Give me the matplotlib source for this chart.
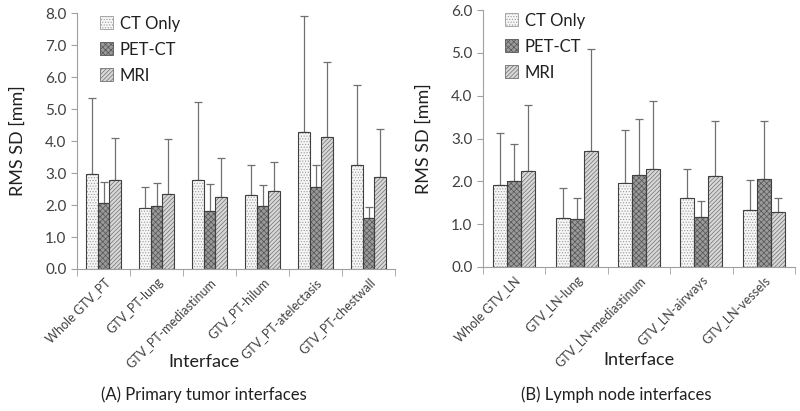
import numpy as np
import matplotlib
matplotlib.use("Agg")
import matplotlib.pyplot as plt

plt.rcParams['font.family'] = ['Lato', 'DejaVu Sans']
plt.rcParams['hatch.linewidth'] = 0.5

series = ["CT Only", "PET-CT", "MRI"]

# (A) primary tumor interfaces
pt_labels = ["Whole GTV_PT", "GTV_PT-lung", "GTV_PT-mediastinum", "GTV_PT-hilum",
             "GTV_PT-atelectasis", "GTV_PT-chestwall"]
pt_ct = [2.96, 1.92, 2.78, 2.32, 4.28, 3.25]
pt_pet = [2.05, 1.97, 1.80, 1.98, 2.55, 1.60]
pt_mri = [2.78, 2.35, 2.25, 2.45, 4.13, 2.87]
pt_ct_top = [5.33, 2.55, 5.23, 3.25, 7.92, 5.75]
pt_pet_top = [2.71, 2.70, 2.65, 2.63, 3.25, 1.94]
pt_mri_top = [4.10, 4.06, 3.47, 3.33, 6.46, 4.38]

# (B) lymph node interfaces
ln_labels = ["Whole GTV_LN", "GTV_LN-lung", "GTV_LN-mediastinum", "GTV_LN-airways",
             "GTV_LN-vessels"]
ln_ct = [1.92, 1.14, 1.96, 1.60, 1.33]
ln_pet = [2.01, 1.12, 2.15, 1.16, 2.06]
ln_mri = [2.23, 2.70, 2.28, 2.12, 1.28]
ln_ct_top = [3.13, 1.84, 3.20, 2.28, 2.04]
ln_pet_top = [2.87, 1.61, 3.45, 1.53, 3.40]
ln_mri_top = [3.78, 5.10, 3.87, 3.40, 1.61]

faces = ["#f6f6f6", "#9a9a9a", "#d8d8d8"]
hcols = ["#9a9a9a", "#555555", "#707070"]
hatches = ["......", "xxxxxx", "////////"]
txt = "#404040"
axc = "#a0a0a0"


def panel(ax, labels, vals, tops, ymax, caption, cap_x, lab_x, leg_x):
    n = len(labels)
    x = np.arange(n)
    w = 0.225
    for i in range(3):
        pos = x + (i - 1) * w
        err = np.array(tops[i]) - np.array(vals[i])
        ax.errorbar(pos, vals[i], yerr=[np.zeros(n), err], fmt="none",
                    ecolor="#707070", elinewidth=0.9, capsize=3, capthick=0.9, zorder=1)
        ax.bar(pos, vals[i], w, color=faces[i], edgecolor=hcols[i],
               hatch=hatches[i], linewidth=0, zorder=2)
        ax.bar(pos, vals[i], w, fill=False, edgecolor="#404040", linewidth=0.8,
               zorder=3)
        # legend proxy
        ax.bar([0], [0], 0, color=faces[i], edgecolor=hcols[i], hatch=hatches[i],
               linewidth=0.6, label=series[i])
    ax.set_xlim(-0.5, n - 0.5)
    ax.set_ylim(0, ymax)
    ticks = np.arange(0, ymax + 0.01, 1.0)
    ax.set_yticks(ticks)
    ax.set_yticklabels([f"{v:.1f}" for v in ticks], fontsize=11, color=txt)
    ax.set_xticks(x)
    ax.set_xticklabels(labels, rotation=45, ha="right", rotation_mode="anchor",
                       fontsize=9, color=txt)
    ax.set_xticks(np.arange(n + 1) - 0.5, minor=True)
    ax.tick_params(axis="x", which="major", length=0, pad=5)
    ax.tick_params(axis="x", which="minor", length=5, color=axc, direction="out")
    ax.tick_params(axis="y", length=4, color=axc, direction="out")
    for s in ["top", "right"]:
        ax.spines[s].set_visible(False)
    for s in ["left", "bottom"]:
        ax.spines[s].set_color(axc)
    ax.set_ylabel("RMS SD [mm]", fontsize=13, color="#202020", labelpad=14)
    ax.set_xlabel("Interface", fontsize=13, color="#202020")
    ax.xaxis.label.set_va("center")
    ax.xaxis.set_label_coords(lab_x, -0.363)
    leg = ax.legend(loc="upper left", bbox_to_anchor=(leg_x, 0.99), frameon=False,
                    fontsize=12, handlelength=0.8, handleheight=0.8,
                    handletextpad=0.4, labelspacing=0.6, borderaxespad=0,
                    borderpad=0)
    for t in leg.get_texts():
        t.set_color("#202020")
    fig.text(cap_x, 16 / 411, caption, ha="center", va="center", fontsize=12,
             color="#202020")


fig = plt.figure(figsize=(8, 4.11), dpi=100)
ax1 = fig.add_axes([77 / 800, 142 / 411, 318 / 800, 256 / 411])
ax2 = fig.add_axes([483 / 800, 144 / 411, 312 / 800, 257 / 411])

panel(ax1, pt_labels, [pt_ct, pt_pet, pt_mri], [pt_ct_top, pt_pet_top, pt_mri_top],
      8.0, "(A) Primary tumor interfaces", 204 / 800, 0.40, 0.072)
panel(ax2, ln_labels, [ln_ct, ln_pet, ln_mri], [ln_ct_top, ln_pet_top, ln_mri_top],
      6.0, "(B) Lymph node interfaces", 616 / 800, 0.50, 0.07)

fig.savefig("out.png", dpi=100)
